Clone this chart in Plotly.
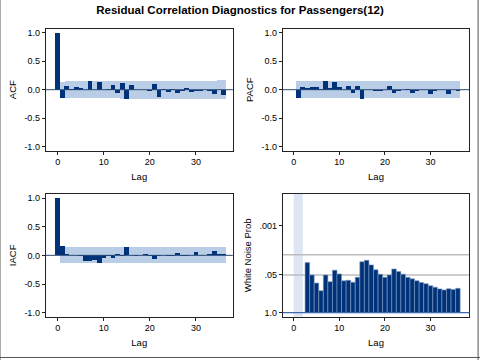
import plotly.graph_objects as go

# ---------------- data ----------------
lags_acf = list(range(0, 37))
acf = [1.0, -0.146, 0.07, 0.02, 0.05, 0.03, 0.0, 0.15, 0.0, 0.14, 0.0, 0.02, 0.09,
       -0.06, 0.11, -0.16, 0.09, 0.0, 0.0, 0.0, -0.02, 0.10, -0.12, 0.02, -0.04,
       0.02, -0.05, -0.03, 0.03, -0.04, -0.03, -0.03, 0.0, -0.03, -0.08, 0.0, -0.09]
acf_band = [0.140, 0.150, 0.150, 0.151, 0.151, 0.151, 0.151, 0.152, 0.152, 0.154, 0.154,
            0.154, 0.154, 0.155, 0.155, 0.156, 0.158, 0.158, 0.158, 0.158, 0.158, 0.158,
            0.159, 0.160, 0.160, 0.160, 0.160, 0.160, 0.160, 0.161, 0.161, 0.161, 0.161,
            0.161, 0.162, 0.162]
band_lags = list(range(1, 37))

lags_pacf = list(range(1, 37))
pacf = [-0.15, 0.05, 0.03, 0.05, 0.05, 0.02, 0.15, 0.03, 0.13, 0.04, 0.0, 0.07,
        -0.06, 0.06, -0.16, 0.0, 0.0, -0.02, -0.03, -0.01, 0.07, -0.05, -0.02, -0.01,
        0.01, -0.06, -0.02, 0.0, 0.0, -0.07, -0.02, 0.0, -0.01, -0.07, 0.0, -0.03]
pacf_band = 0.145

lags_iacf = list(range(0, 37))
iacf = [1.0, 0.16, 0.03, 0.01, 0.0, -0.01, -0.09, -0.10, -0.08, -0.14, -0.05, -0.01,
        -0.04, 0.02, -0.01, 0.15, 0.0, -0.01, 0.01, 0.02, -0.02, -0.06, -0.01, 0.0,
        -0.02, -0.02, 0.04, -0.01, -0.01, 0.0, 0.06, 0.0, 0.0, 0.03, 0.07, 0.02, 0.02]
iacf_band = 0.14

lags_wn = list(range(3, 37))
wn_prob = [0.0186, 0.050, 0.095, 0.174, 0.050, 0.085, 0.034, 0.046, 0.079, 0.076,
           0.089, 0.060, 0.0174, 0.0155, 0.0224, 0.033, 0.047, 0.060, 0.050, 0.031,
           0.038, 0.047, 0.060, 0.068, 0.079, 0.091, 0.100, 0.117, 0.132, 0.151,
           0.164, 0.148, 0.158, 0.145]
wn_excluded = [0, 2]          # lags not tested (shaded)
wn_ref = [0.05, 0.01]

corr_ticks = [-1.0, -0.5, 0.0, 0.5, 1.0]
corr_ticktext = ["-1.0", "-0.5", "0.0", "0.5", "1.0"]
lag_ticks = [0, 10, 20, 30]
wn_ticks = [1.0, 0.05, 0.001]
wn_ticktext = ["1.0", ".05", ".001"]

# ---------------- style ----------------
BAR = "#003279"
BAND = "#B9CEE6"
BAND2 = "#DCE5F1"
ZERO = "#2B4A78"
FONT = "Liberation Sans, Arial, sans-serif"

fig = go.Figure()


def add_band(lags, half, xa, ya):
    fig.add_trace(go.Bar(x=lags, y=[2 * h for h in half], base=[-h for h in half], width=1.0,
                         marker=dict(color=BAND, line=dict(width=0)),
                         xaxis=xa, yaxis=ya, hoverinfo="skip", showlegend=False))


def add_bars(lags, vals, xa, ya):
    fig.add_trace(go.Bar(x=lags, y=vals, width=1.05, marker=dict(color=BAR, line=dict(width=0)),
                         xaxis=xa, yaxis=ya, showlegend=False))


add_band(band_lags, acf_band, "x", "y")
add_bars(lags_acf, acf, "x", "y")
add_band(band_lags, [pacf_band] * len(band_lags), "x2", "y2")
add_bars(lags_pacf, pacf, "x2", "y2")
add_band(band_lags, [iacf_band] * len(band_lags), "x3", "y3")
add_bars(lags_iacf, iacf, "x3", "y3")
fig.add_trace(go.Bar(x=lags_wn, y=[1.0 - p for p in wn_prob], base=wn_prob, width=1.0,
                     marker=dict(color=BAR, line=dict(width=0.6, color="#7F9CC4")),
                     xaxis="x4", yaxis="y4", showlegend=False))

shapes = []
for xa, ya in [("x", "y"), ("x2", "y2"), ("x3", "y3")]:
    shapes.append(dict(type="line", xref=f"{xa} domain", yref=ya, x0=0, x1=1, y0=0, y1=0,
                       line=dict(color=ZERO, width=1), layer="above"))
shapes.append(dict(type="rect", xref="x4", yref="y4 domain", x0=wn_excluded[0], x1=wn_excluded[1],
                   y0=0, y1=1, fillcolor=BAND2, line=dict(width=0), layer="below"))
for r in wn_ref:
    shapes.append(dict(type="line", xref="x4 domain", yref="y4", x0=0, x1=1, y0=r, y1=r,
                       line=dict(color="#BDBDBD", width=1.5), layer="below"))
shapes.append(dict(type="line", xref="x4 domain", yref="y4", x0=0, x1=1, y0=1.0, y1=1.0,
                   line=dict(color="#3D6BB0", width=1.2), layer="above"))
# outer frame
shapes.append(dict(type="line", xref="paper", yref="paper", x0=0.001, x1=0.001, y0=0, y1=1,
                   line=dict(color="#AAAAAA", width=1)))
shapes.append(dict(type="line", xref="paper", yref="paper", x0=0.996, x1=0.996, y0=0, y1=1,
                   line=dict(color="#555555", width=1)))
shapes.append(dict(type="line", xref="paper", yref="paper", x0=0, x1=1, y0=0.007, y1=0.007,
                   line=dict(color="#555555", width=1)))

axis_common = dict(showgrid=False, zeroline=False, showline=True, linecolor="#222222",
                   linewidth=1, mirror=True, ticks="outside", ticklen=3, tickcolor="#222222",
                   automargin=False,
                   tickfont=dict(size=9, family=FONT, color="#000"))
tfont = dict(size=9.5, family=FONT, color="#000")

xl = [0.0952, 0.4850]
xr = [0.5890, 0.9777]
yt = [0.5814, 0.9203]
yb = [0.1203, 0.4611]

fig.update_layout(
    width=480, height=360,
    margin=dict(l=0, r=0, t=0, b=0, autoexpand=False),
    paper_bgcolor="white", plot_bgcolor="white",
    font=dict(family=FONT, size=10, color="#000"),
    bargap=0, barmode="overlay",
    shapes=shapes,
    title=dict(text="<b>Residual Correlation Diagnostics for Passengers(12)</b>",
               x=0.5, xanchor="center", y=0.972, yanchor="middle", automargin=False,
               font=dict(size=11.5, family=FONT, color="#000")),
    xaxis=dict(domain=xl, anchor="y", range=[-2.6, 38.0], tickvals=lag_ticks,
               title=dict(text="Lag", standoff=6, font=tfont), **axis_common),
    yaxis=dict(domain=yt, anchor="x", range=[-1.07, 1.07], tickvals=corr_ticks,
               ticktext=corr_ticktext, title=dict(text="ACF", standoff=6, font=tfont),
               **axis_common),
    xaxis2=dict(domain=xr, anchor="y2", range=[-2.4, 38.5], tickvals=lag_ticks,
                title=dict(text="Lag", standoff=6, font=tfont), **axis_common),
    yaxis2=dict(domain=yt, anchor="x2", range=[-1.07, 1.07], tickvals=corr_ticks,
                ticktext=corr_ticktext, title=dict(text="PACF", standoff=6, font=tfont),
                **axis_common),
    xaxis3=dict(domain=xl, anchor="y3", range=[-2.6, 38.0], tickvals=lag_ticks,
                title=dict(text="Lag", standoff=6, font=tfont), **axis_common),
    yaxis3=dict(domain=yb, anchor="x3", range=[-1.07, 1.07], tickvals=corr_ticks,
                ticktext=corr_ticktext, title=dict(text="IACF", standoff=6, font=tfont),
                **axis_common),
    xaxis4=dict(domain=xr, anchor="y4", range=[-2.4, 38.5], tickvals=lag_ticks,
                title=dict(text="Lag", standoff=6, font=tfont), **axis_common),
    yaxis4=dict(domain=yb, anchor="x4", type="log", range=[0.14, -4.1], tickvals=wn_ticks,
                ticktext=wn_ticktext,
                title=dict(text="White Noise Prob", standoff=6, font=tfont),
                **axis_common),
)

fig.write_html("out.html", config={"displayModeBar": False, "staticPlot": True},
               post_script="document.body.style.margin='0';document.body.style.overflow='hidden';")
